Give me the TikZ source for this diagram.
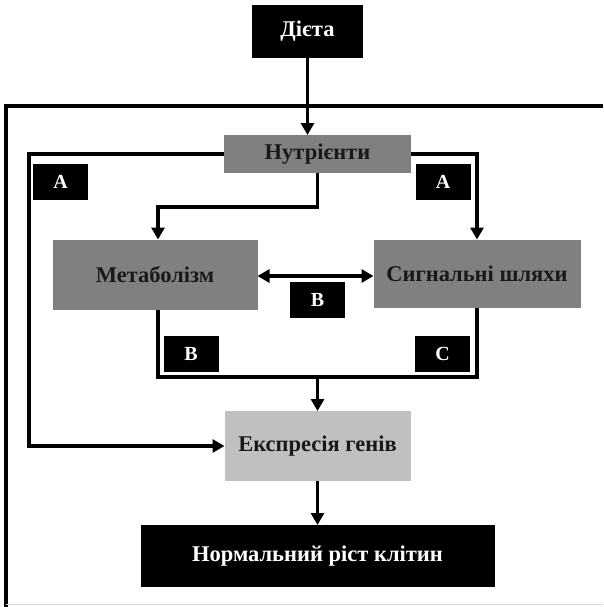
\documentclass[tikz,border=0pt]{standalone}
\usepackage{fontspec}
\setmainfont{Liberation Serif}
\usetikzlibrary{arrows.meta}
\definecolor{midgray}{HTML}{808080}
\definecolor{lightgray}{HTML}{C0C0C0}
\begin{document}
\begin{tikzpicture}[x=1pt,y=-1pt,
  base/.style={inner sep=0pt, outer sep=0pt, font=\bfseries\fontsize{22.5}{26}\selectfont},
  darkbox/.style={base, fill=black, text=white},
  greybox/.style={base, fill=midgray, text=black!90},
  lightbox/.style={base, fill=lightgray, text=black!90},
  tag/.style={base, fill=black, text=white, minimum width=55pt, minimum height=36pt,
    font=\bfseries\fontsize{20}{24}\selectfont},
  conn/.style={line width=3.2pt, draw=black},
  arr/.style={conn, -{Triangle[width=13pt,length=12pt]}},
  darr/.style={conn, {Triangle[width=13pt,length=12pt]}-{Triangle[width=13pt,length=12pt]}}]
\useasboundingbox (0,0) rectangle (603,607);

% outer frame
\draw[line width=3.2pt] (603,106) -- (6,106) -- (6,607);
\draw[black!15, line width=1pt] (6,604) -- (603,604);

% main boxes
\node[darkbox, minimum width=111pt, minimum height=53pt] (dieta) at (307.5,31.5) {Дієта};
\node[greybox, minimum width=187pt, minimum height=38pt] (nutr) at (317.5,154) {Нутрієнти};
\node[greybox, minimum width=205pt, minimum height=70pt] (met) at (155,274.5) {Метаболізм};
\node[greybox, minimum width=207pt, minimum height=68pt] (sig) at (477,273.5) {Сигнальні шляхи};
\node[lightbox, minimum width=186pt, minimum height=70pt] (expr) at (317.5,446) {Експресія генів};
\node[darkbox, minimum width=354pt, minimum height=62pt] (growth) at (317.5,556) {Нормальний ріст клітин};

% letter tags
\node[tag] (tagAl) at (60.5,182) {A};
\node[tag] (tagAr) at (443,182) {A};
\node[tag] (tagBm) at (317.5,300) {B};
\node[tag] (tagBl) at (191,354) {B};
\node[tag] (tagC) at (442.5,354) {C};

% routing points
\coordinate (lcorner) at (29,154);
\coordinate (split) at (317.5,207);
\coordinate (join) at (317.5,377);
\coordinate (mlink) at (0,276);
\coordinate (mdrop) at (158,0);

% connectors
\draw[arr] (dieta.south) -- (dieta.south |- nutr.north);
\draw[arr] (nutr.west) -- (lcorner) |- (expr.west);
\draw[arr] (nutr.east) -| (sig.north);
\draw[arr] (nutr.south) -- (split) -| (mdrop |- met.north);
\draw[darr] (met.east |- mlink) -- (sig.west |- mlink);
\draw[conn] (mdrop |- met.south) |- (join) -| (sig.south);
\draw[arr] (join) -- (expr.north);
\draw[arr] (expr.south) -- (growth.north);
\end{tikzpicture}
\end{document}
